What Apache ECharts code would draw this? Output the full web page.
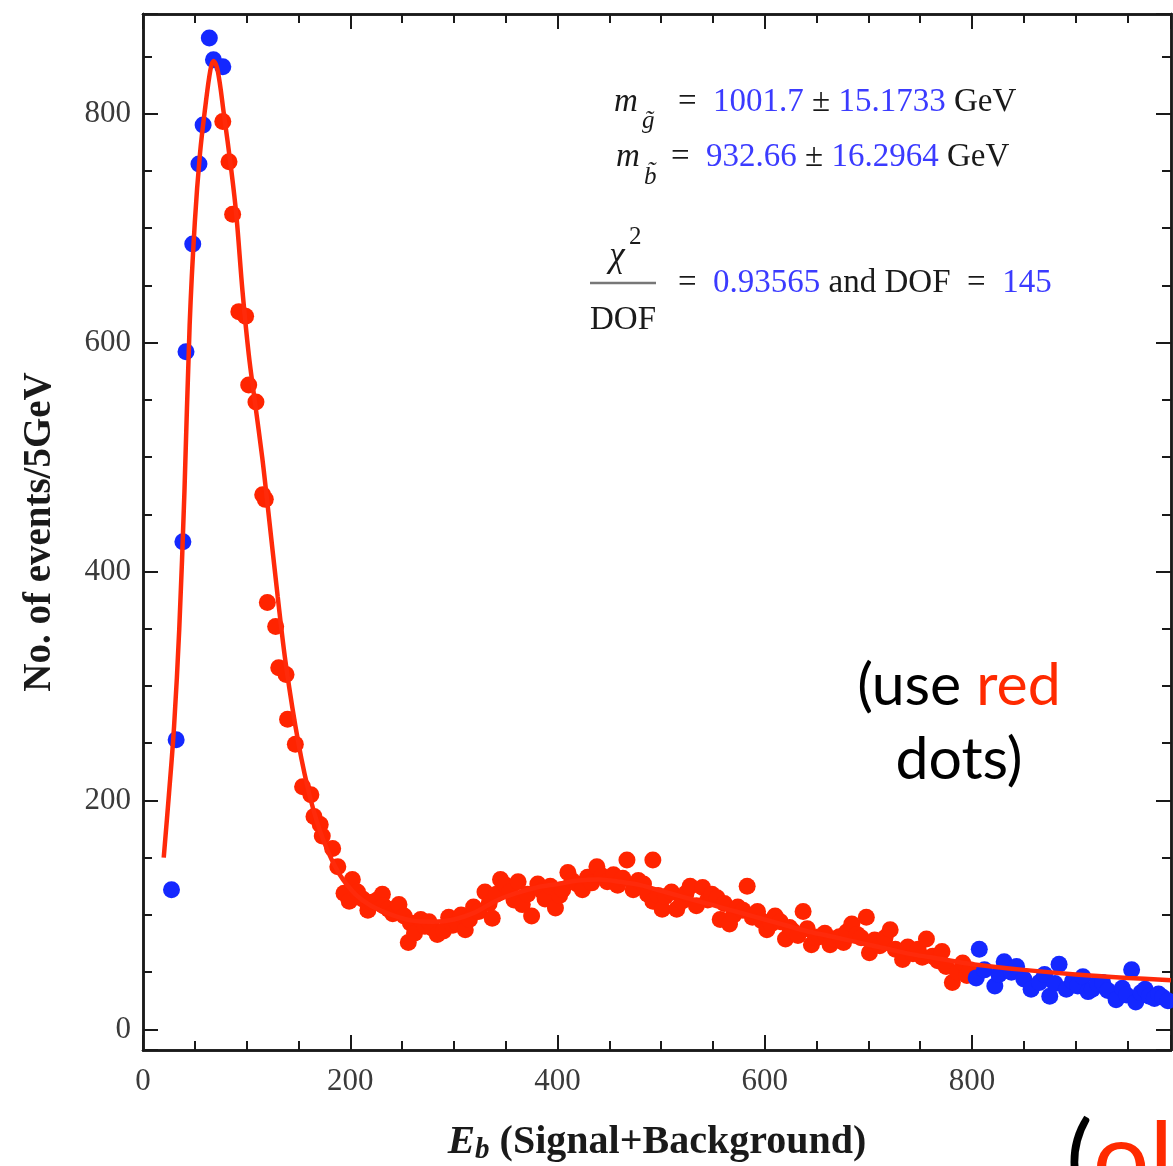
<!DOCTYPE html>
<html>
<head>
<meta charset="utf-8">
<script src="https://cdn.jsdelivr.net/npm/echarts@6/dist/echarts.min.js"></script>
<style>
  html, body { margin: 0; padding: 0; background: #fff; }
  #chart { width: 1173px; height: 1166px; }
</style>
</head>
<body>
<div id="chart"></div>
<script>
// values (x = E_b in GeV, y = events / 5 GeV)
var blueLeft = [[27.5,122],[32,253],[38.5,426],[41.5,592],[48,686],[54,756],[58,790],[64,866],[68,847],[77,841]];

var redDots = [
  [77,793],[83,758],[86.5,712],[92.5,627],[99,623],[102,563],[109,548],[115.5,467],[118,463],[120,373],
  [128,352],[131,316],[138,310],[139.5,271],[147,249],[154,212],[162,205],[165,186],[171,179],[173,169],
  [183,158],[188,142],[194,119],[199,112],[202,131],[207,120],[212,114],[217,104],[221,111],[226,113],
  [231,118],[232,108],[237,105],[241,101],[247,109],[252,99],[256,76],[258,93],[262,84],[268,96],
  [272,90],[276,94],[280,88],[284,83],[290,86],[295,98],[299,91],[303,93],[307,100],[311,87],
  [315,96],[319,107],[324,103],[330,120],[334,110],[337,97],[341,118],[345,131],[350,126],[354,120],
  [358,113],[362,129],[366,109],[371,118],[375,99],[381,127],[385,121],[388,114],[393,125],[398,106],
  [402,117],[405,122],[410,137],[414,130],[419,127],[424,122],[429,133],[433,128],[438,142],[443,134],
  [448,129],[454,135],[458,126],[463,132],[467,148],[473,122],[478,130],[483,127],[487,118],[492,148],
  [492,112],[497,117],[501,105],[504,116],[510,120],[515,105],[520,112],[524,119],[528,125],[534,108],
  [540,124],[545,113],[549,118],[554,115],[557,96],[561,110],[566,92],[570,100],[574,107],[579,104],
  [583,125],[588,98],[593,103],[597,95],[602,87],[606,92],[610,99],[615,94],[620,79],[624,89],
  [627,86],[632,82],[637,103],[641,88],[645,74],[649,80],[653,81],[658,84],[663,74],[667,79],
  [672,81],[676,76],[679,85],[684,92],[689,83],[693,80],[698,98],[701,67],[706,78],[711,73],
  [716,80],[721,87],[726,70],[733,61],[738,72],[743,66],[748,70],[752,63],[756,79],[762,64],
  [767,60],[771,68],[775,55],[781,41],[786,50],[791,58],[795,47],[798,52]
];

var blueRight = [
  [804,45],[807,70],[812,52],[822,38],[826,48],[831,59],[838,50],[843,55],[850,44],[857,35],
  [865,41],[870,48],[875,29],[880,40],[884,57],[891,35],[897,42],[902,38],[907,46],[912,33],
  [916,35],[921,40],[926,41],[931,34],[939,26],[945,36],[949,30],[954,52],[958,24],[963,32],
  [967,35],[971,29],[976,27],[980,31],[984,28],[989,25]
];

var fitCurve = [
  [20,150],[25,205],[30,265],[35,350],[40,470],[45,615],[50,705],[55,765],[60,805],[65,838],
  [68,846],[72,838],[78,800],[85,752],[90,712],[96,645],[102,590],[108,548],[115,500],[120,460],
  [130,378],[138,318],[150,250],[162,200],[175,163],[190,135],[205,118],[220,108],[240,100],[260,95],
  [280,94],[300,96],[320,102],[340,112],[360,119],[380,124],[400,127],[420,130],[440,131],[460,129],
  [480,126],[500,121],[520,116],[540,111],[560,106],[580,101],[600,96],[620,91],[640,86],[660,82],
  [680,78],[700,74],[720,70],[740,66],[760,63],[780,60],[800,57],[850,52],[900,48],[950,45],[992,43]
];

var xRange = [0, 992];
var yRange = [-18, 887];
var majorStep = 200;
var minorStep = 50;

var serif = '"Liberation Serif", "DejaVu Serif", serif';
var sans = 'Lato, "Open Sans", sans-serif';
var black = '#1a1a1a';
var textBlue = '#3b3bff';

function xAx(pos, step, len, labels) {
  return {
    type: 'value', position: pos, min: xRange[0], max: xRange[1], interval: step,
    axisLine: { show: true, onZero: false, lineStyle: { color: black, width: 2.5 } },
    axisTick: { show: true, inside: true, length: len, lineStyle: { color: black, width: 2 } },
    axisLabel: labels ? {
      show: true, margin: 16, color: '#3a3a3a', fontFamily: serif, fontSize: 31,
      formatter: function (v) { return v % majorStep === 0 ? String(v) : ''; }
    } : { show: false },
    splitLine: { show: false }
  };
}
function yAx(pos, step, len, labels) {
  return {
    type: 'value', position: pos, min: yRange[0], max: yRange[1],
    minInterval: step, maxInterval: step,
    axisLine: { show: true, onZero: false, lineStyle: { color: black, width: 2.5 } },
    axisTick: { show: true, inside: true, length: len, lineStyle: { color: black, width: 2 } },
    axisLabel: labels ? {
      show: true, margin: 12, color: '#3a3a3a', fontFamily: serif, fontSize: 31,
      formatter: function (v) { return v % majorStep === 0 ? String(v) : ''; }
    } : { show: false },
    splitLine: { show: false }
  };
}

var xAxes = [xAx('bottom', majorStep, 15, true), xAx('bottom', minorStep, 9, false),
             xAx('top', majorStep, 15, false), xAx('top', minorStep, 9, false)];
xAxes[0].name = '{i|E}{sub|b}{n| (Signal+Background)}';
xAxes[0].nameLocation = 'middle';
xAxes[0].nameGap = 70;
xAxes[0].nameTextStyle = {
  rich: {
    i: { fontFamily: serif, fontSize: 41, fontWeight: 'bold', fontStyle: 'italic', color: black },
    sub: { fontFamily: serif, fontSize: 29, fontWeight: 'bold', fontStyle: 'italic', color: black, padding: [16, 0, 0, 0] },
    n: { fontFamily: serif, fontSize: 40, fontWeight: 'bold', color: black }
  }
};

var yAxes = [yAx('left', majorStep, 15, true), yAx('left', minorStep, 9, false),
             yAx('right', majorStep, 15, false), yAx('right', minorStep, 9, false)];
yAxes[0].name = 'No. of events/5GeV';
yAxes[0].nameLocation = 'middle';
yAxes[0].nameGap = 84;
yAxes[0].nameTextStyle = { fontFamily: serif, fontSize: 39, fontWeight: 'bold', color: black };

var chart = echarts.init(document.getElementById('chart'));

var annFont = 33;
function annLine(x, y, parts) {
  return { type: 'text', x: x, y: y, style: {
    text: parts, verticalAlign: 'middle',
    rich: { k: { font: annFont + 'px ' + serif, fill: black }, b: { font: annFont + 'px ' + serif, fill: textBlue } }
  } };
}

chart.setOption({
  backgroundColor: '#fff',
  animation: false,
  grid: { left: 143, right: 2, top: 14, bottom: 116, outerBoundsMode: 'none', containLabel: false },
  xAxis: xAxes,
  yAxis: yAxes,
  series: [
    {
      type: 'scatter', data: redDots, symbolSize: 17, z: 2,
      itemStyle: { color: '#ff2400', opacity: 1 }
    },
    {
      type: 'scatter', data: blueLeft.concat(blueRight), symbolSize: 17, z: 2,
      itemStyle: { color: '#1428ff', opacity: 1 }
    },
    {
      type: 'line', data: fitCurve, smooth: 0.35, showSymbol: false, z: 3,
      lineStyle: { color: '#ff2a0a', width: 4.5 }
    }
  ],
  graphic: [
    { type: 'text', x: 614, y: 102, style: { text: 'm', font: 'italic 33px ' + serif, fill: black, verticalAlign: 'middle' } },
    { type: 'text', x: 642, y: 121, style: { text: 'g\u0303', font: 'italic 25px ' + serif, fill: black, verticalAlign: 'middle' } },
    annLine(678, 102, '{k|=  }{b|1001.7}{k| ± }{b|15.1733}{k| GeV}'),
    { type: 'text', x: 616, y: 157, style: { text: 'm', font: 'italic 33px ' + serif, fill: black, verticalAlign: 'middle' } },
    { type: 'text', x: 644, y: 177, style: { text: 'b\u0303', font: 'italic 25px ' + serif, fill: black, verticalAlign: 'middle' } },
    annLine(671, 157, '{k|=  }{b|932.66}{k| ± }{b|16.2964}{k| GeV}'),
    { type: 'text', x: 617, y: 257, style: { text: 'χ', font: 'italic 35px ' + serif, fill: black, align: 'center', verticalAlign: 'middle' } },
    { type: 'text', x: 629, y: 237, style: { text: '2', font: '25px ' + serif, fill: black, verticalAlign: 'middle' } },
    { type: 'line', shape: { x1: 590, y1: 283, x2: 656, y2: 283 }, style: { stroke: '#777', lineWidth: 2.5 } },
    { type: 'text', x: 623, y: 320, style: { text: 'DOF', font: annFont + 'px ' + serif, fill: black, align: 'center', verticalAlign: 'middle' } },
    annLine(678, 283, '{k|=  }{b|0.93565}{k| and DOF  =  }{b|145}'),
    { type: 'text', x: 959, y: 686, style: {
        text: '{k|(use }{r|red}', align: 'center', verticalAlign: 'middle',
        rich: { k: { font: '59px ' + sans, fill: '#000' }, r: { font: '59px ' + sans, fill: '#ff2a00' } }
    } },
    { type: 'text', x: 959, y: 760, style: { text: 'dots)', font: '59px ' + sans, fill: '#000', align: 'center', verticalAlign: 'middle' } },
    { type: 'text', x: 1066, y: 1162, style: {
        text: '{k|(}{r|ol}', verticalAlign: 'middle',
        rich: { k: { font: '100px ' + sans, fill: '#000' }, r: { font: '100px ' + sans, fill: '#ff2a00' } }
    } }
  ]
});
</script>
</body>
</html>
